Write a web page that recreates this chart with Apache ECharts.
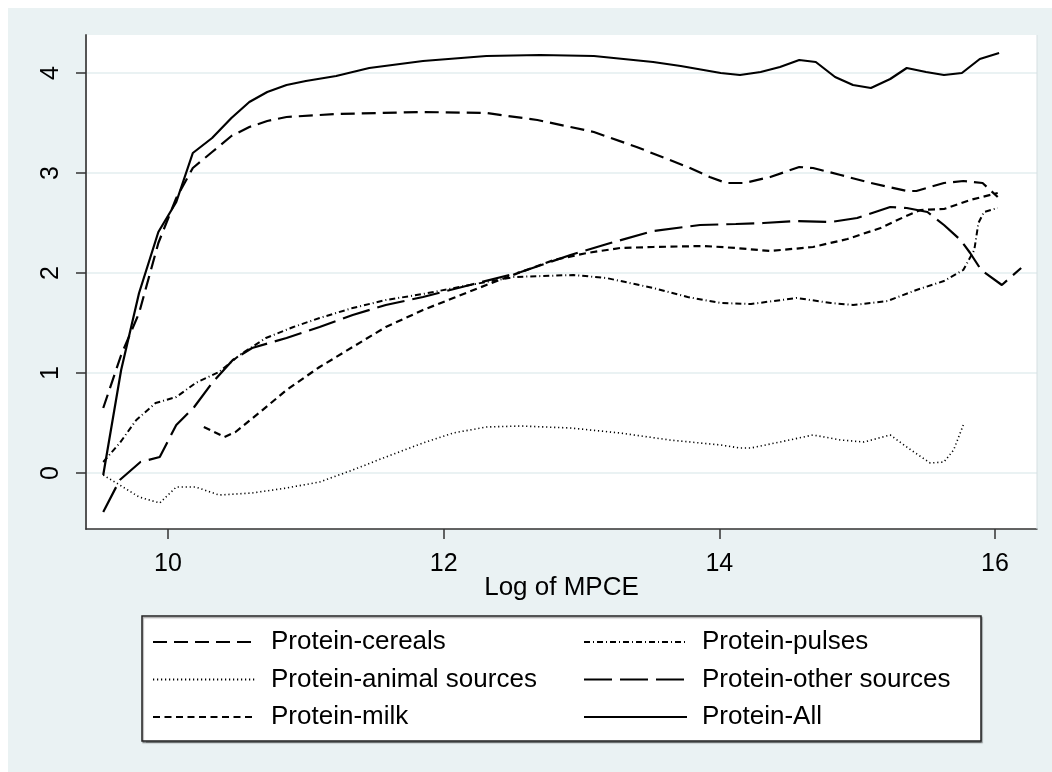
<!DOCTYPE html>
<html><head><meta charset="utf-8">
<script src="https://cdn.jsdelivr.net/npm/echarts@6/dist/echarts.min.js"></script>
<style>
html,body{margin:0;padding:0;background:#ffffff;}
#c{position:absolute;left:8px;top:8px;width:1044px;height:764px;}
</style>
</head><body><div id="c"></div>
<script>
const xTicks = [10, 12, 14, 16];
const yTicks = [0, 1, 2, 3, 4];
const xTitle = 'Log of MPCE';
const names = ['Protein-cereals','Protein-pulses','Protein-animal sources','Protein-other sources','Protein-milk','Protein-All'];

const cereals = [[9.53,0.65],[9.66,1.18],[9.79,1.60],[9.93,2.30],[10.06,2.75],[10.18,3.05],[10.32,3.21],[10.46,3.37],[10.59,3.46],[10.72,3.52],[10.86,3.56],[11.22,3.59],[11.85,3.61],[12.31,3.60],[12.68,3.53],[13.09,3.41],[13.40,3.26],[13.77,3.06],[13.93,2.96],[14.05,2.90],[14.18,2.90],[14.37,2.96],[14.58,3.06],[14.68,3.05],[14.88,2.98],[15.10,2.90],[15.36,2.82],[15.43,2.82],[15.63,2.90],[15.77,2.92],[15.91,2.90],[16.02,2.76]];
const pulses = [[9.53,0.11],[9.65,0.30],[9.77,0.53],[9.91,0.70],[10.06,0.76],[10.20,0.90],[10.37,1.01],[10.52,1.18],[10.71,1.35],[10.91,1.46],[11.10,1.55],[11.34,1.65],[11.58,1.73],[11.85,1.79],[12.19,1.88],[12.51,1.96],[12.94,1.98],[13.18,1.95],[13.52,1.85],[13.77,1.76],[14.01,1.70],[14.23,1.69],[14.56,1.75],[14.81,1.70],[14.97,1.68],[15.22,1.72],[15.43,1.83],[15.63,1.92],[15.77,2.03],[15.85,2.23],[15.88,2.50],[15.92,2.61],[16.02,2.65]];
const animal = [[9.53,-0.02],[9.65,-0.12],[9.79,-0.24],[9.94,-0.30],[10.06,-0.14],[10.20,-0.14],[10.37,-0.22],[10.61,-0.20],[10.86,-0.15],[11.10,-0.09],[11.34,0.03],[11.58,0.16],[11.85,0.30],[12.07,0.40],[12.31,0.46],[12.56,0.47],[12.92,0.45],[13.28,0.40],[13.64,0.33],[14.01,0.28],[14.15,0.25],[14.23,0.25],[14.44,0.31],[14.68,0.38],[14.88,0.33],[15.05,0.31],[15.24,0.38],[15.39,0.23],[15.53,0.10],[15.63,0.11],[15.70,0.23],[15.77,0.48]];
const other = [[9.53,-0.39],[9.65,-0.07],[9.80,0.11],[9.94,0.16],[10.06,0.48],[10.19,0.66],[10.32,0.90],[10.47,1.13],[10.61,1.25],[10.86,1.35],[11.10,1.46],[11.34,1.58],[11.58,1.68],[11.85,1.76],[12.19,1.88],[12.56,2.01],[12.92,2.18],[13.21,2.30],[13.52,2.42],[13.86,2.48],[14.12,2.49],[14.32,2.50],[14.56,2.52],[14.81,2.51],[15.00,2.55],[15.24,2.66],[15.36,2.65],[15.51,2.61],[15.63,2.48],[15.75,2.33],[15.82,2.20],[15.90,2.03],[16.05,1.88],[16.19,2.05]];
const milk = [[10.26,0.46],[10.41,0.36],[10.49,0.41],[10.66,0.60],[10.86,0.83],[11.10,1.06],[11.34,1.26],[11.58,1.46],[11.85,1.63],[12.07,1.75],[12.31,1.88],[12.56,2.01],[12.80,2.13],[13.04,2.20],[13.28,2.25],[13.52,2.26],[13.89,2.27],[14.12,2.25],[14.37,2.22],[14.68,2.26],[14.93,2.34],[15.17,2.45],[15.34,2.56],[15.46,2.63],[15.63,2.64],[15.82,2.73],[16.02,2.80]];
const all = [[9.53,-0.02],[9.66,1.03],[9.79,1.80],[9.93,2.41],[10.06,2.71],[10.18,3.20],[10.32,3.35],[10.46,3.55],[10.59,3.71],[10.72,3.81],[10.86,3.88],[11.00,3.92],[11.22,3.97],[11.46,4.05],[11.85,4.12],[12.31,4.17],[12.70,4.18],[13.09,4.17],[13.52,4.11],[13.72,4.07],[14.01,4.00],[14.15,3.98],[14.30,4.01],[14.44,4.06],[14.58,4.13],[14.70,4.11],[14.84,3.96],[14.97,3.88],[15.10,3.85],[15.24,3.94],[15.36,4.05],[15.50,4.01],[15.63,3.98],[15.76,4.00],[15.89,4.14],[16.03,4.20]];

const FONT = '"Liberation Sans", Arial, Helvetica, sans-serif';
const BG = '#EAF2F3';

const styles = {
  'Protein-cereals':        {data: cereals, type: [14, 7], width: 2.2},
  'Protein-pulses':         {data: pulses,  type: [6, 3, 1, 3], width: 2},
  'Protein-animal sources': {data: animal,  type: [1.2, 2.8], width: 1.6},
  'Protein-other sources':  {data: other,   type: [28, 8], width: 2.2},
  'Protein-milk':           {data: milk,    type: [7, 4.5], width: 2.2},
  'Protein-All':            {data: all,     type: 'solid', width: 2.2}
};

const series = names.map(n => ({
  name: n,
  type: 'line',
  data: styles[n].data,
  symbol: 'none',
  showSymbol: false,
  smooth: false,
  lineStyle: {color: '#000', width: styles[n].width, type: styles[n].type, cap: 'butt'},
  itemStyle: {color: '#000'},
  emphasis: {disabled: true},
  animation: false
}));

const legendCommon = {
  orient: 'vertical',
  top: 619,
  padding: 0,
  itemWidth: 103,
  itemHeight: 14,
  itemGap: 7.5,
  selectedMode: false,
  itemStyle: {opacity: 0, borderWidth: 0},
  textStyle: {fontFamily: FONT, fontSize: 26, color: '#000', lineHeight: 30, padding: [0, 0, 0, 10]}
};

const chart = echarts.init(document.getElementById('c'), null, {renderer: 'canvas'});
chart.setOption({
  backgroundColor: BG,
  animation: false,
  grid: {left: 78, right: 15, top: 27, bottom: 243, show: true, backgroundColor: '#ffffff', borderWidth: 0},
  graphic: [{
    type: 'rect', z: 1,
    shape: {x: 134, y: 608, width: 839, height: 125},
    style: {fill: '#ffffff', stroke: '#222', lineWidth: 1.5, shadowColor: 'rgba(0,0,0,0.35)', shadowOffsetX: 1, shadowOffsetY: 1.5, shadowBlur: 1}
  }, {
    type: 'line', z: 3,
    shape: {x1: 1029, y1: 27, x2: 1029, y2: 521},
    style: {stroke: '#d6dfe2', lineWidth: 1}
  }],
  legend: [
    Object.assign({}, legendCommon, {left: 144, data: [names[0], names[2], names[4]]}),
    Object.assign({}, legendCommon, {left: 575, data: [names[1], names[3], names[5]]})
  ],
  xAxis: {
    type: 'value', min: 9.405, max: 16.305,
    name: xTitle, nameLocation: 'middle', nameGap: 46, nameMoveOverlap: false,
    nameTextStyle: {fontFamily: FONT, fontSize: 26, color: '#000'},
    axisLine: {show: true, onZero: false, lineStyle: {color: '#333', width: 1.5}},
    axisTick: {show: true, length: 10, customValues: xTicks, lineStyle: {color: '#333', width: 1.5}},
    axisLabel: {customValues: xTicks, margin: 23, fontFamily: FONT, fontSize: 25, color: '#000'},
    splitLine: {show: false}
  },
  yAxis: {
    type: 'value', min: -0.56, max: 4.38,
    axisLine: {show: true, onZero: false, lineStyle: {color: '#555', width: 2}},
    axisTick: {show: true, length: 10, customValues: yTicks, lineStyle: {color: '#333', width: 1.5}},
    axisLabel: {customValues: yTicks, rotate: 90, margin: 22, fontFamily: FONT, fontSize: 25, color: '#000'},
    splitLine: {show: true, lineStyle: {color: BG, width: 2}}
  },
  series: series
});
</script>
</body></html>
